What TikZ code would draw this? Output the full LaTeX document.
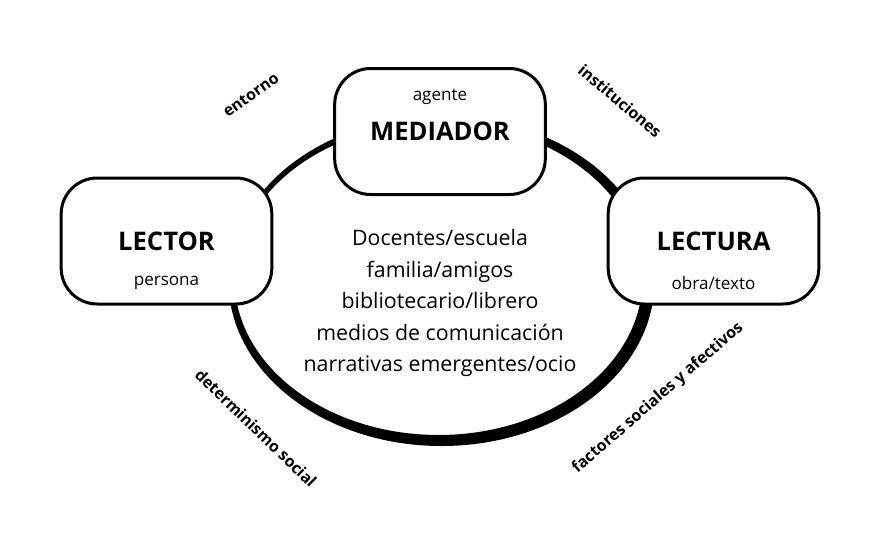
\documentclass[tikz,border=0pt]{standalone}
\usepackage{fontspec}
\setmainfont{Open Sans}
\usetikzlibrary{positioning}

\tikzset{
    rolebox/.style={draw, line width=2.25pt, fill=white, rounded corners=27pt,
        minimum width=158pt, minimum height=94.5pt, inner sep=0pt},
    roletitle/.style={font=\bfseries\fontsize{19.2}{22}\selectfont},
    rolesub/.style={font=\fontsize{12.8}{15}\selectfont},
    sidelabel/.style={font=\bfseries\fontsize{11.9}{14}\selectfont}
}

\begin{document}
\begin{tikzpicture}[x=0.75pt, y=-0.75pt]
    \useasboundingbox (0,0) rectangle (874,550);

    % draw the ring (thicker on the right and at the bottom)
    \fill[even odd rule] (441.5,281) ellipse (213 and 165)
                         (438.5,279) ellipse (204 and 156);

    % the three boxes
    \node[rolebox] (mediador) at (440,131.5) {};
    \node[rolebox] (lector) at (166.5,241) {};
    \node[rolebox] (lectura) at (713.5,241) {};

    % the texts in the boxes
    \node[roletitle] (mediadortxt) at (mediador.center) {MEDIADOR};
    \node[rolesub] (agente) at ([yshift=26pt]mediador.center) {agente};
    \node[roletitle] (lectortxt) at (lector.center) {LECTOR};
    \node[rolesub] (persona) at ([yshift=-31.5pt]lector.center) {persona};
    \node[roletitle] (lecturatxt) at (lectura.center) {LECTURA};
    \node[rolesub] (obra) at ([yshift=-31.5pt]lectura.center) {obra/texto};

    % the list inside the ring
    \node[align=center, font=\fontsize{16}{23.6}\selectfont] (agentes) at (440,303)
        {Docentes/escuela\\familia/amigos\\bibliotecario/librero\\medios de comunicación\\narrativas emergentes/ocio};

    % the labels around the ring
    \node[sidelabel, rotate=35] (entorno) at (251,95) {entorno};
    \node[sidelabel, rotate=-40] (instituciones) at (620,101) {instituciones};
    \node[sidelabel, rotate=-44] (determinismo) at (256,428) {determinismo social};
    \node[sidelabel, rotate=41] (factores) at (658,398) {factores sociales y afectivos};
\end{tikzpicture}
\end{document}
